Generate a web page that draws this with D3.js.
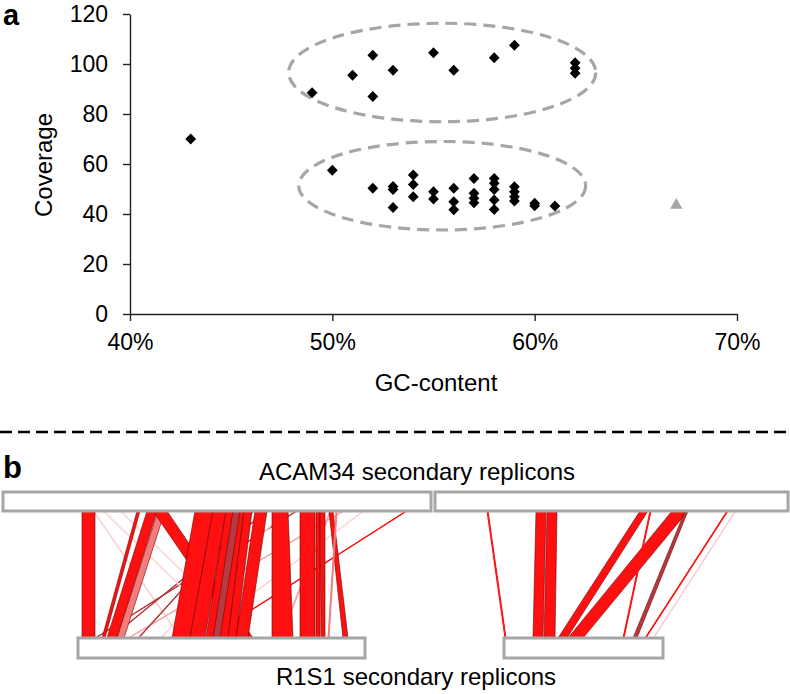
<!DOCTYPE html>
<html><head><meta charset="utf-8">
<script src="https://cdn.jsdelivr.net/npm/d3@7"></script>
<style>
html,body{margin:0;padding:0;background:#fff;}
svg{display:block;font-family:"Liberation Sans",Arial,sans-serif;}
</style></head>
<body>
<svg id="chart" width="790" height="694"></svg>
<script>
// ---------- Panel a data ----------
const gcContent = [0.43,0.49,0.51,0.52,0.52,0.53,0.55,0.56,0.58,0.59,0.62,0.62,0.62,
  0.50,0.52,0.53,0.53,0.53,0.54,0.54,0.54,0.55,0.55,0.56,0.56,0.56,
  0.57,0.57,0.57,0.57,0.58,0.58,0.58,0.58,0.58,0.59,0.59,0.59,0.59,0.60,0.60,0.61];
const coverage = [70,88.5,95.5,103.5,87,97.5,104.5,97.5,102.5,107.5,100.5,98.3,96.3,
  57.5,50.3,51,49.8,42.6,55.6,51.8,46.9,48.9,46,50.3,44.9,41.7,
  54.2,48.3,46.3,44.5,54.2,52.3,49.8,45.6,41.8,50.9,48.9,46.9,45.2,44.3,43.3,43.2];
const outlierGC = [0.67];
const outlierCov = [43.5];
const yTicks = [0,20,40,60,80,100,120];
const xTicks = [0.4,0.5,0.6,0.7];
// grouping ellipses: centre GC, centre coverage, radius GC, radius coverage
const ellipseCx = [0.5543, 0.5543];
const ellipseCy = [96.6, 51.3];
const ellipseRx = [0.0759, 0.0709];
const ellipseRy = [19.7, 17.7];

// ---------- Panel b data (positions in kb on a shared layout axis) ----------
const topRepStart = [0, 4320];
const topRepEnd = [4280, 7850];
const botRepStart = [750, 5010];
const botRepEnd = [3620, 6600];
// ribbons: top start, top end, bottom start, bottom end, colour class
const ribTopStart = [900,2930,2630,3400,1170,2820,4030,3270,2500,3600,1000,
  790,1340,1440,1550,1500,1920,2100,2230,2300,2410,2520,2690,2970,3130,3170,3260,3330,
  4840,5330,5440,6370,6690,6470,6820,7240,7320];
const ribTopEnd = [910,2940,2640,3410,1180,2830,4040,3280,2510,3610,1010,
  920,1370,1540,1620,1640,2100,2230,2410,2370,2490,2640,2850,3120,3170,3220,3300,3340,
  4850,5430,5540,6450,6850,6480,6850,7250,7330];
const ribBotStart = [1770,920,1070,1250,2470,1570,2040,2770,1350,1900,2300,
  790,990,1040,1140,2370,1690,1870,2030,2100,2250,2330,2690,2970,3130,3180,3400,3250,
  5020,5300,5410,5550,5650,6200,6300,6420,6500];
const ribBotEnd = [1780,930,1080,1260,2480,1580,2050,2780,1360,1910,2310,
  920,1020,1140,1210,2500,1870,2020,2250,2170,2330,2450,2900,3120,3170,3220,3450,3260,
  5030,5400,5520,5640,5800,6210,6340,6430,6510];
const ribColor = ["pale","dark","dark","pink","pale","pale","red","pink","dark","pale","pale",
  "red","red","red","salmon","red","red","red","red","dark","red","red","red","red","red","red","red","salmon",
  "red","red","red","red","red","red","dark","red","pale"];
const colorMap = {red:"#ff1010", dark:"#b8393f", salmon:"#f47c7c", pink:"#f7a3a3", pale:"#fbd2d2"};

const svg = d3.select("#chart");

// ---------- Panel a ----------
const x = d3.scaleLinear().domain([0.4,0.7]).range([130,737]);
const y = d3.scaleLinear().domain([0,120]).range([314,14]);

const gA = svg.append("g");
gA.selectAll("ellipse").data(ellipseCx).join("ellipse")
  .attr("cx", (d,i)=>x(ellipseCx[i]))
  .attr("cy", (d,i)=>y(ellipseCy[i]))
  .attr("rx", (d,i)=>x(0.4+ellipseRx[i]) - x(0.4))
  .attr("ry", (d,i)=>y(0) - y(ellipseRy[i]))
  .attr("fill","none").attr("stroke","#a6a6a6").attr("stroke-width",3.2)
  .attr("stroke-dasharray","12,7");

const yAxis = gA.append("g").attr("transform","translate(130,0)")
  .call(d3.axisLeft(y).tickValues(yTicks).tickSize(7).tickSizeOuter(0).tickPadding(15));
const xAxis = gA.append("g").attr("transform","translate(0,314)")
  .call(d3.axisBottom(x).tickValues(xTicks).tickFormat(d3.format(".0%")).tickSize(7).tickSizeOuter(0).tickPadding(13));
[yAxis,xAxis].forEach(a=>{
  a.selectAll("path,line").attr("stroke","#222").attr("stroke-width",1.4);
  a.selectAll("text").attr("font-size",23).attr("fill","#000").attr("font-family","Liberation Sans, Arial, sans-serif");
});

const diamond = d3.symbol().type(d3.symbolSquare).size(58);
gA.selectAll("path.pt").data(gcContent).join("path").attr("class","pt")
  .attr("d", diamond)
  .attr("transform",(d,i)=>`translate(${x(gcContent[i])},${y(coverage[i])}) rotate(45)`)
  .attr("fill","#000");
gA.selectAll("path.tri").data(outlierGC).join("path").attr("class","tri")
  .attr("d", d3.symbol().type(d3.symbolTriangle).size(66))
  .attr("transform",(d,i)=>`translate(${x(outlierGC[i])},${y(outlierCov[i])})`)
  .attr("fill","#a6a6a6");

gA.append("text").attr("x",3).attr("y",25).attr("font-size",29).attr("font-weight","bold").text("a");
gA.append("text").attr("transform","translate(52,165) rotate(-90)").attr("text-anchor","middle")
  .attr("font-size",24).text("Coverage");
gA.append("text").attr("x",436).attr("y",391).attr("text-anchor","middle")
  .attr("font-size",24).text("GC-content");

// separator
svg.append("line").attr("x1",0).attr("x2",790).attr("y1",432).attr("y2",432)
  .attr("stroke","#000").attr("stroke-width",2.5).attr("stroke-dasharray","12,6");

// ---------- Panel b ----------
const pos = d3.scaleLinear().domain([0,7850]).range([3,788]);
const yTopBarTop = 492, yTopBarBot = 511, yBotBarTop = 638, yBotBarBot = 658;
const gB = svg.append("g");

const ribIdx = d3.range(ribTopStart.length);
gB.selectAll("path.rib").data(ribIdx).join("path").attr("class","rib")
  .attr("d", i=>{
    const t0=pos(ribTopStart[i]), t1=pos(ribTopEnd[i]), b0=pos(ribBotStart[i]), b1=pos(ribBotEnd[i]);
    return `M${t0},${yTopBarBot}L${t1},${yTopBarBot}L${b1},${yBotBarTop}L${b0},${yBotBarTop}Z`;
  })
  .attr("fill", i=>colorMap[ribColor[i]])
  .attr("stroke", i=> (ribTopEnd[i]-ribTopStart[i] <= 15) ? colorMap[ribColor[i]] : "#700000")
  .attr("stroke-width", i=> (ribTopEnd[i]-ribTopStart[i] <= 15) ? 1 : 0.6)
  .attr("stroke-linejoin","round");

gB.selectAll("rect.top").data(topRepStart).join("rect").attr("class","top")
  .attr("x",(d,i)=>pos(topRepStart[i])).attr("width",(d,i)=>pos(topRepEnd[i])-pos(topRepStart[i]))
  .attr("y",yTopBarTop).attr("height",yTopBarBot-yTopBarTop)
  .attr("fill","#fff").attr("stroke","#a6a6a6").attr("stroke-width",3);
gB.selectAll("rect.bot").data(botRepStart).join("rect").attr("class","bot")
  .attr("x",(d,i)=>pos(botRepStart[i])).attr("width",(d,i)=>pos(botRepEnd[i])-pos(botRepStart[i]))
  .attr("y",yBotBarTop).attr("height",yBotBarBot-yBotBarTop)
  .attr("fill","#fff").attr("stroke","#a6a6a6").attr("stroke-width",3);

gB.append("text").attr("x",3).attr("y",478).attr("font-size",31).attr("font-weight","bold").text("b");
gB.append("text").attr("x",417).attr("y",480).attr("text-anchor","middle").attr("font-size",24)
  .text("ACAM34 secondary replicons");
gB.append("text").attr("x",416).attr("y",685).attr("text-anchor","middle").attr("font-size",24)
  .text("R1S1 secondary replicons");
</script>
</body></html>
